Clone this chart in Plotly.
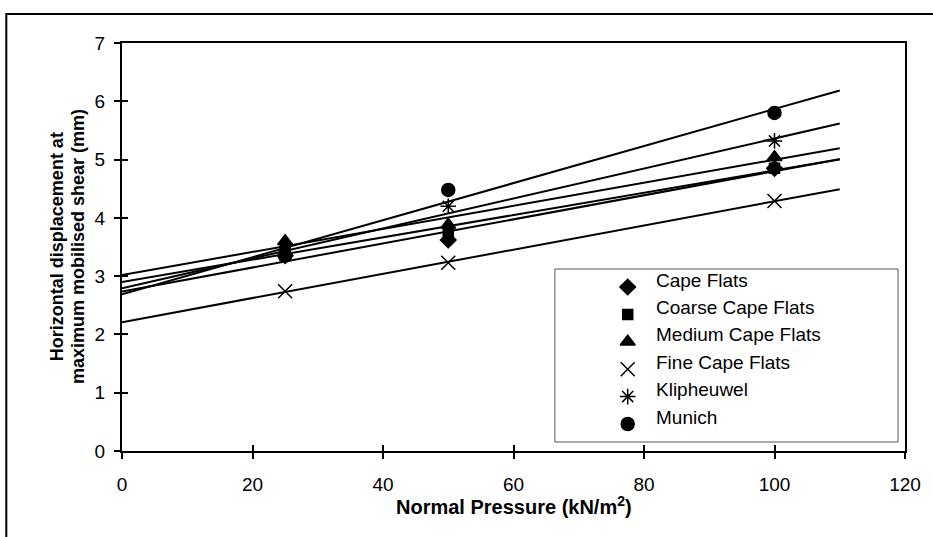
import numpy as np
import plotly.graph_objects as go

# Normal pressure levels (kN/m^2)
pressure = [25, 50, 100]

# Horizontal displacement at maximum mobilised shear (mm) for each sand
series_names = ["Cape Flats", "Coarse Cape Flats", "Medium Cape Flats",
                "Fine Cape Flats", "Klipheuwel", "Munich"]
cape_flats = [3.35, 3.62, 4.85]
coarse_cape_flats = [3.45, 3.75, 4.85]
medium_cape_flats = [3.60, 3.88, 5.04]
fine_cape_flats = [2.74, 3.23, 4.29]
klipheuwel = [3.35, 4.20, 5.32]
munich = [3.35, 4.48, 5.80]

x_ticks = [0, 20, 40, 60, 80, 100, 120]
y_ticks = [0, 1, 2, 3, 4, 5, 6, 7]

series_values = [cape_flats, coarse_cape_flats, medium_cape_flats,
                 fine_cape_flats, klipheuwel, munich]
symbols = ["diamond", "square", "triangle-up", "x-thin-open",
           "asterisk-open", "circle"]
sizes = [12, 10, 13, 14, 13, 13]

FONT = "Liberation Sans, Arial, sans-serif"
W, H = 933, 537
L, R, T, B = 122, 26, 43, 86

fig = go.Figure()

# Linear trend lines, drawn from 0 to 110 kN/m^2
trend_x = np.array([0, 110])
for vals in series_values:
    slope, intercept = np.polyfit(pressure, vals, 1)
    fig.add_trace(go.Scatter(
        x=trend_x, y=intercept + slope * trend_x, mode="lines",
        line=dict(color="black", width=2), showlegend=False,
        hoverinfo="skip"))

for name, vals, sym, sz in zip(series_names, series_values, symbols, sizes):
    fig.add_trace(go.Scatter(
        x=pressure, y=vals, mode="markers", name=name, showlegend=False,
        marker=dict(symbol=sym, size=sz, color="black",
                    line=dict(color="black", width=1.5))))

# Legend key drawn on a pixel-space overlay axis
leg_x_marker = 629
leg_x_text = 655
leg_row0 = 287
leg_step = 27.4
leg_rows = [leg_row0 + i * leg_step for i in range(len(series_names))]
for name, sym, sz, yy in zip(series_names, symbols, sizes, leg_rows):
    fig.add_trace(go.Scatter(
        x=[leg_x_marker], y=[yy], xaxis="x2", yaxis="y2", mode="markers",
        showlegend=False, hoverinfo="skip", cliponaxis=False,
        marker=dict(symbol=sym, size=sz, color="black",
                    line=dict(color="black", width=1.5))))

# Empty trace carrying the inner half of the crossing tick marks
fig.add_trace(go.Scatter(x=[], y=[], xaxis="x3", yaxis="y3",
                         showlegend=False, hoverinfo="skip"))

tick_font = dict(family=FONT, size=19, color="black")
axis_common = dict(
    showgrid=False, zeroline=False, showline=True, linecolor="black",
    linewidth=2, mirror=True, ticks="outside", ticklen=6, tickwidth=1.5,
    tickcolor="black", tickfont=tick_font)


def px_x(p):
    return (p - L) / (W - L - R)


def px_y(p):
    return (H - B - p) / (H - T - B)


annotations = [
    dict(text="<b>Horizontal displacement at</b>", xref="paper", yref="paper",
         x=px_x(57), y=0.5, textangle=-90, showarrow=False,
         xanchor="center", yanchor="middle",
         font=dict(family=FONT, size=18, color="black")),
    dict(text="<b>maximum mobilised shear (mm)</b>", xref="paper",
         yref="paper", x=px_x(78), y=0.5, textangle=-90,
         showarrow=False, xanchor="center", yanchor="middle",
         font=dict(family=FONT, size=18, color="black")),
    dict(text="<b>Normal Pressure (kN/m<sup>2</sup>)</b>",
         xref="paper", yref="paper", x=0.5, y=px_y(505),
         showarrow=False, xanchor="center", yanchor="middle",
         font=dict(family=FONT, size=20, color="black")),
]
for name, yy in zip(series_names, leg_rows):
    annotations.append(dict(
        text=name, xref="x2", yref="y2", x=leg_x_text, y=yy - 7,
        xanchor="left", yanchor="middle", showarrow=False,
        font=dict(family=FONT, size=19, color="black")))

fig.update_layout(
    width=W, height=H,
    margin=dict(l=L, r=R, t=T, b=B),
    paper_bgcolor="white", plot_bgcolor="white",
    showlegend=False,
    xaxis=dict(range=[0, 120], tickvals=x_ticks, ticklabelstandoff=9,
               **axis_common),
    yaxis=dict(range=[0, 7], tickvals=y_ticks, ticklabelstandoff=5,
               **axis_common),
    xaxis2=dict(range=[L, W - R], overlaying="x", visible=False),
    yaxis2=dict(range=[H - B, T], overlaying="y", visible=False),
    xaxis3=dict(range=[0, 120], tickvals=x_ticks, overlaying="x",
                anchor="y", side="bottom", showgrid=False, zeroline=False,
                showline=False, showticklabels=False, ticks="inside",
                ticklen=6, tickwidth=1.5, tickcolor="black"),
    yaxis3=dict(range=[0, 7], tickvals=y_ticks, overlaying="y",
                anchor="x", side="left", showgrid=False, zeroline=False,
                showline=False, showticklabels=False, ticks="inside",
                ticklen=6, tickwidth=1.5, tickcolor="black"),
    shapes=[
        # legend frame
        dict(type="rect", xref="paper", yref="paper",
             x0=px_x(556), x1=px_x(900), y0=px_y(442), y1=px_y(269),
             line=dict(color="#555555", width=1)),
        # outer chart frame
        dict(type="rect", xref="paper", yref="paper",
             x0=px_x(6), x1=px_x(940), y0=px_y(545), y1=px_y(14),
             line=dict(color="black", width=2)),
    ],
    annotations=annotations,
)

fig.write_html("out.html")
